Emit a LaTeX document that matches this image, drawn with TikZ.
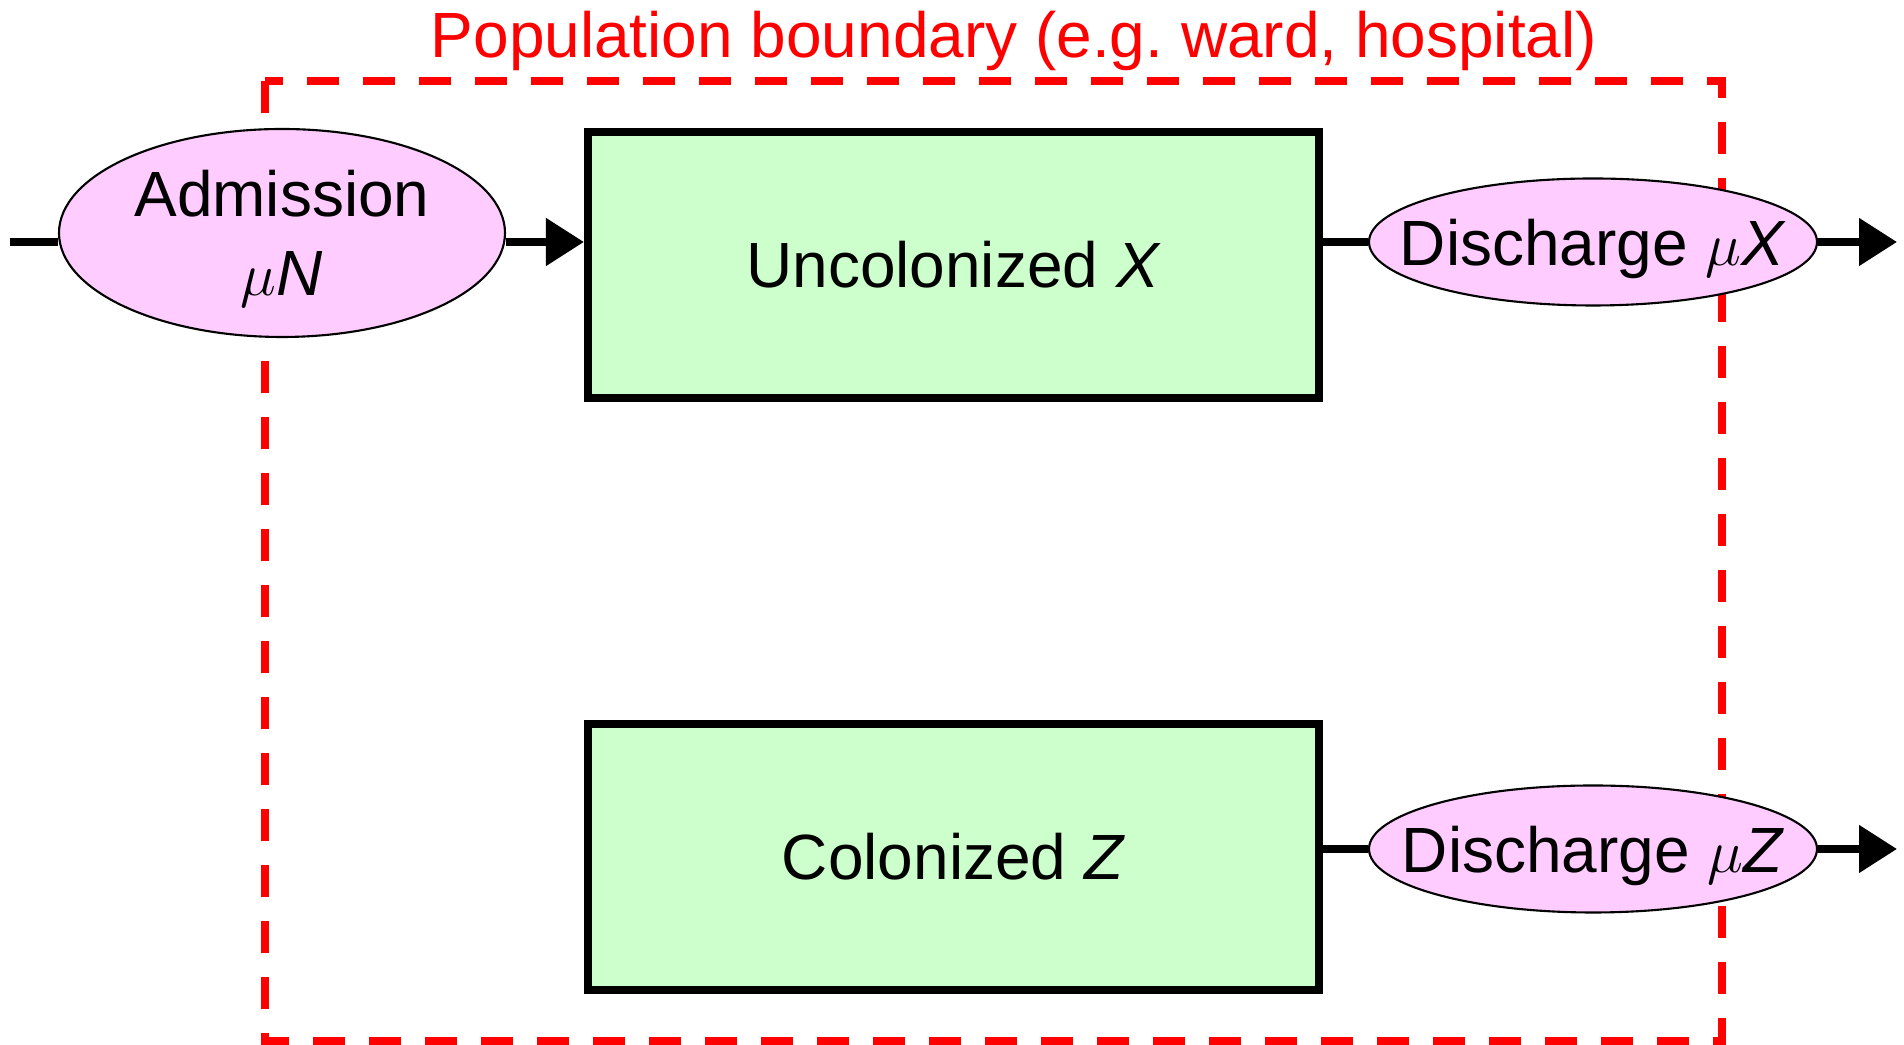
\documentclass[tikz,border=0pt]{standalone}
\usepackage{fontspec}
\setmainfont{Liberation Sans}
\usepackage{tikz}
\usetikzlibrary{shapes.geometric, arrows.meta}
\definecolor{pinkfill}{HTML}{FFCCFF}
\definecolor{greenfill}{HTML}{CCFFCC}
\tikzset{
    every node/.style={font=\fontsize{18.2pt}{22.5pt}\selectfont}
}
\tikzset{
    rate/.style={ellipse, draw, fill=pinkfill, line width=0.6pt, inner sep=0pt,
    	text depth=0pt},
    compartment/.style={rectangle, draw, fill=greenfill, line width=2.3pt,
    	minimum width=7.31cm, minimum height=2.66cm}
}
\tikzset{
    every edge/.append style={line width=2.3pt}
}
\tikzset{
	flowarrow/.style={-{Triangle[length=0.38cm,width=0.46cm]}}
}
\newcommand{\nowidth}[1]{\makebox[0pt]{#1}}
\pgfdeclarelayer{background}
\pgfsetlayers{background,main}

\begin{document}
\begin{tikzpicture}
	\useasboundingbox (0cm, 0cm) rectangle (19.04cm, 10.45cm);
	\coordinate (0) at (0.10cm, 8.03cm);
	\node (1) [rate, minimum width=4.46cm, minimum height=2.08cm, align=center] at (2.82cm, 8.12cm) {\nowidth{Admission}\\ \nowidth{$\mu$\textit{N}}};
	\node (2) [compartment] at (9.535cm, 7.80cm) {Uncolonized \textit{X}};
	\node (3) [compartment] at (9.535cm, 1.88cm) {Colonized \textit{Z}};
	\node (4) [rate, minimum width=4.48cm, minimum height=1.27cm] at (15.93cm, 8.03cm) {\nowidth{Discharge $\mu$\textit{X}}};
	\node (5) [rate, minimum width=4.48cm, minimum height=1.27cm] at (15.93cm, 1.96cm) {\nowidth{Discharge $\mu$\textit{Z}}};
	\coordinate (6) at (18.97cm, 8.03cm);
	\coordinate (7) at (18.97cm, 1.96cm);
	\node (8) [text=red, anchor=base] at (10.14cm, 9.87cm) {Population boundary (e.g.\ ward, hospital)};
	
	\begin{pgfonlayer}{background}
		\draw [red, line width=2.3pt, dash pattern=on 0.32cm off 0.24cm] (2.65cm, 9.64cm) rectangle (17.22cm, 0.04cm);
	\end{pgfonlayer}
	
	\draw (0) edge (0 -| 1.west);
	\draw (1.east |- 0) edge [flowarrow] (0 -| 2.west);
	\draw (2.east |- 4) edge (4); \draw (4) edge [flowarrow] (6);
	\draw (3.east |- 5) edge (5); \draw (5) edge [flowarrow] (7);
\end{tikzpicture}
\end{document}
